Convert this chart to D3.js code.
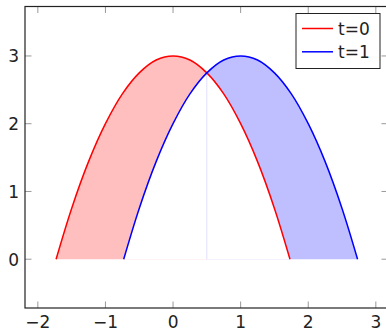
<!DOCTYPE html>
<html>
<head>
<meta charset="utf-8">
<script src="https://cdn.jsdelivr.net/npm/d3@7"></script>
<style>
  html, body { margin: 0; padding: 0; background: #fff; }
  svg { display: block; }
  text { font-family: "DejaVu Sans", sans-serif; fill: #222; }
</style>
</head>
<body>
<svg id="chart" width="386" height="330"></svg>
<script>
// Profile at t=0
const t0X = [-1.73, -1.5, -1.25, -1, -0.75, -0.5, -0.25, 0, 0.25, 0.5, 0.75, 1, 1.25, 1.5, 1.73];
const t0Y = [0, 0.75, 1.44, 2, 2.44, 2.75, 2.94, 3, 2.94, 2.75, 2.44, 2, 1.44, 0.75, 0];
// Profile at t=1
const t1X = [-0.73, -0.5, -0.25, 0, 0.25, 0.5, 0.75, 1, 1.25, 1.5, 1.75, 2, 2.25, 2.5, 2.73];
const t1Y = [0, 0.75, 1.44, 2, 2.44, 2.75, 2.94, 3, 2.94, 2.75, 2.44, 2, 1.44, 0.75, 0];
const seriesNames = ["t=0", "t=1"];
const xTicks = [-2, -1, 0, 1, 2, 3];
const yTicks = [0, 1, 2, 3];
const splitX = 0.5;      // where the two profiles cross
const crossY = 2.75;

const svg = d3.select("#chart");
const L = 25, R = 388, T = 6.5, B = 308;
const x = d3.scaleLinear().domain([-2.19, 3.18]).range([L, R]);
const y = d3.scaleLinear().domain([-0.72, 3.73]).range([B, T]);

const t0 = t0X.map((v, i) => [v, t0Y[i]]);
const t1 = t1X.map((v, i) => [v, t1Y[i]]);

const curve = d3.curveCatmullRom;
const line = d3.line().x(d => x(d[0])).y(d => y(d[1])).curve(curve);
const area = d3.area().x(d => x(d[0])).y0(y(0)).y1(d => y(d[1])).curve(curve);

const defs = svg.append("defs");
defs.append("clipPath").attr("id", "leftPart")
  .append("rect").attr("x", 0).attr("y", 0).attr("width", x(splitX)).attr("height", 330);
defs.append("clipPath").attr("id", "rightPart")
  .append("rect").attr("x", x(splitX)).attr("y", 0).attr("width", 400).attr("height", 330);

// Region swept left of the crossing: under t=0, above t=1
const gl = svg.append("g").attr("clip-path", "url(#leftPart)");
gl.append("path").datum(t0).attr("d", area).attr("fill", "#ffbfbf");
gl.append("path").datum(t1).attr("d", area).attr("fill", "#fff");
// Region swept right of the crossing: under t=1, above t=0
const gr = svg.append("g").attr("clip-path", "url(#rightPart)");
gr.append("path").datum(t1).attr("d", area).attr("fill", "#bfbfff");
gr.append("path").datum(t0).attr("d", area).attr("fill", "#fff");

// seam of the two fills
svg.append("line")
  .attr("x1", x(splitX)).attr("x2", x(splitX))
  .attr("y1", y(0)).attr("y2", y(crossY))
  .attr("stroke", "#e4e4ff").attr("stroke-width", 1);

svg.append("path").datum(t0).attr("d", line)
  .attr("fill", "none").attr("stroke", "#ff0000").attr("stroke-width", 1.5);
svg.append("path").datum(t1).attr("d", line)
  .attr("fill", "none").attr("stroke", "#0000ff").attr("stroke-width", 1.5);

// ticks on all four sides, pointing inward
const tk = 6.5;
const tg = svg.append("g").attr("stroke", "#999").attr("stroke-width", 1);
xTicks.forEach(v => {
  tg.append("line").attr("x1", x(v)).attr("x2", x(v)).attr("y1", B).attr("y2", B - tk);
  tg.append("line").attr("x1", x(v)).attr("x2", x(v)).attr("y1", T).attr("y2", T + tk);
});
yTicks.forEach(v => {
  tg.append("line").attr("x1", L).attr("x2", L + tk).attr("y1", y(v)).attr("y2", y(v));
  tg.append("line").attr("x1", R).attr("x2", R - tk).attr("y1", y(v)).attr("y2", y(v));
});

// frame
svg.append("rect").attr("x", L).attr("y", T).attr("width", R - L).attr("height", B - T)
  .attr("fill", "none").attr("stroke", "#222").attr("stroke-width", 1.2);

const fmt = v => v < 0 ? "\u2212" + Math.abs(v) : String(v);
svg.append("g").selectAll("text").data(xTicks).join("text")
  .attr("x", d => x(d)).attr("y", 328)
  .attr("text-anchor", "middle").attr("font-size", 17)
  .text(fmt);
svg.append("g").selectAll("text").data(yTicks).join("text")
  .attr("x", 19).attr("y", d => y(d) + 6.3)
  .attr("text-anchor", "end").attr("font-size", 17)
  .text(fmt);

// legend
const lg = svg.append("g");
lg.append("rect").attr("x", 296).attr("y", 13.5).attr("width", 84).attr("height", 55)
  .attr("fill", "#fff").attr("stroke", "#222").attr("stroke-width", 1);
const colors = ["#ff0000", "#0000ff"];
seriesNames.forEach((n, i) => {
  const yy = 28.5 + i * 23.3;
  lg.append("line").attr("x1", 302).attr("x2", 333).attr("y1", yy).attr("y2", yy)
    .attr("stroke", colors[i]).attr("stroke-width", 1.5);
  lg.append("text").attr("x", 338).attr("y", yy + 6.3).attr("font-size", 17).text(n);
});
</script>
</body>
</html>
